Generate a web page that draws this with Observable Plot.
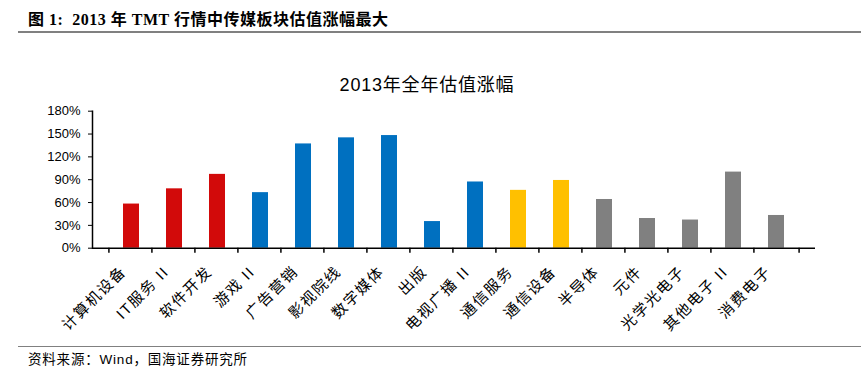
<!DOCTYPE html>
<html><head><meta charset="utf-8">
<script src="https://cdn.jsdelivr.net/npm/d3@7"></script>
<script src="https://cdn.jsdelivr.net/npm/@observablehq/plot@0.6"></script>
<style>
body{margin:0;background:#fff;width:866px;height:382px;position:relative;overflow:hidden;}
#hdr{position:absolute;left:28px;top:6px;font:bold 16px "Liberation Serif","Noto Sans CJK SC";letter-spacing:0.5px;color:#000;white-space:nowrap;}
#hline{position:absolute;left:18px;top:31px;width:843px;height:2px;background:#808080;}
#chart{position:absolute;left:0;top:40px;}
#fline{position:absolute;left:18px;top:346px;width:843px;height:1px;background:#808080;}
#src{position:absolute;left:28px;top:348px;font:13.5px "Liberation Sans","Noto Sans CJK SC";letter-spacing:0.8px;color:#000;white-space:nowrap;}
.xlab text{letter-spacing:1.6px;}
.ctitle text{letter-spacing:0.8px;}
</style></head>
<body>
<div id="hdr">图 1:&nbsp; 2013 年 TMT 行情中传媒板块估值涨幅最大</div>
<div id="hline"></div>
<div id="chart"></div>
<div id="fline"></div>
<div id="src">资料来源：Wind，国海证券研究所</div>
<script>
const categories = ["计算机设备","IT服务 II","软件开发","游戏 II","广告营销","影视院线","数字媒体","出版","电视广播 II","通信服务","通信设备","半导体","元件","光学光电子","其他电子 II","消费电子"];
const values = [58, 78, 97, 73, 137, 145, 148, 35, 87, 76, 89, 64, 39, 37, 100, 43];
const groups = ["计算机","计算机","计算机","传媒","传媒","传媒","传媒","传媒","传媒","通信","通信","电子","电子","电子","电子","电子"];
const groupNames = ["计算机","传媒","通信","电子"];
const groupColors = ["#D20A0A","#0070C0","#FFC000","#808080"];
const yTicks = [0,30,60,90,120,150,180];
const chartTitle = "2013年全年估值涨幅";

const data = categories.map((c,i)=>({cat:c, v:values[i], g:groups[i]}));
const W = 866, H = 300, mL = 92, mR = 51, mT = 70.7, mB = 92.3;
const step = (W - mL - mR) / categories.length;
const cjk = '"Liberation Sans","Noto Sans CJK SC"';

const plot = Plot.plot({
  width: W, height: H,
  marginLeft: mL, marginRight: mR, marginTop: mT, marginBottom: mB,
  style: {fontFamily: cjk, fontSize: "13px", color: "#000", background: "#fff"},
  x: {domain: categories, padding: 0.63, label: null},
  y: {domain: [0,180], label: null},
  color: {domain: groupNames, range: groupColors},
  marks: [
    Plot.barY(data, {x: "cat", y: "v", fill: "g"}),
    Plot.ruleY([0], {stroke: "#000", strokeWidth: 1.5}),
    Plot.frame({anchor: "left", stroke: "#000", strokeWidth: 1.5}),
    Plot.axisY({ticks: yTicks, tickFormat: d => d + "%", tickSize: 4, tickPadding: 8, stroke: "#000", fill: "#000", fontSize: 13, label: null}),
    Plot.axisX({tickFormat: null, tickSize: 5, dx: -step/2, stroke: "#000", strokeWidth: 1.5, label: null}),
    Plot.axisX({ticks: [categories[categories.length-1]], tickFormat: null, tickSize: 5, dx: step/2, stroke: "#000", strokeWidth: 1.5, label: null}),
    Plot.text(categories, {x: d => d, y: () => 0, text: d => d, rotate: -45, textAnchor: "end", lineAnchor: "middle", dx: -8, dy: 21, fontSize: 15, fill: "#000", className: "xlab"}),
    Plot.text([chartTitle], {frameAnchor: "top", dx: -27, dy: -mT + 38, text: d => d, fontSize: 18, fill: "#000", className: "ctitle"})
  ]
});
document.getElementById("chart").appendChild(plot);
</script>
</body></html>
